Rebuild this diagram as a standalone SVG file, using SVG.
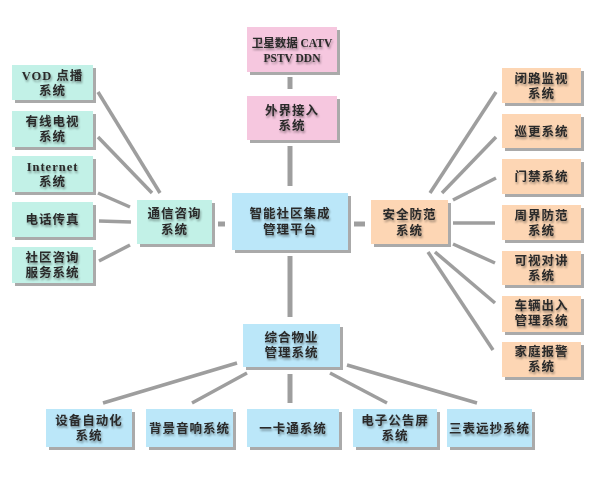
<svg xmlns="http://www.w3.org/2000/svg" width="595" height="480" viewBox="0 0 595 480">
<defs>
<filter id="ts" x="-10%" y="-20%" width="130%" height="150%">
<feGaussianBlur in="SourceAlpha" stdDeviation="0.8" result="b"/>
<feOffset in="b" dx="1" dy="1.5" result="o"/>
<feComponentTransfer in="o" result="s"><feFuncA type="linear" slope="0.4"/></feComponentTransfer>
<feMerge><feMergeNode in="s"/><feMergeNode in="SourceGraphic"/></feMerge>
</filter>
</defs>
<style>
.sh{fill:#aaaaaa}
.c{fill:#c2f1e7}
.b{fill:#bbe7f9}
.p{fill:#f6c7df}
.o{fill:#fdd6b4}
text{font-family:"Liberation Serif","Noto Sans CJK SC",serif;font-size:12.5px;font-weight:bold;fill:#2a2a2a;text-anchor:middle;dominant-baseline:central;letter-spacing:1px;filter:url(#ts)}
.ln line{stroke:#9e9e9e;stroke-width:3.5}
.tk line{stroke:#9e9e9e;stroke-width:5}
</style>
<rect width="595" height="480" fill="#fff"/>
<g id="connectors">
<g class="ln">
<line x1="98" y1="92" x2="160" y2="193"/>
<line x1="98" y1="137" x2="152" y2="193"/>
<line x1="98" y1="193" x2="130" y2="207"/>
<line x1="99" y1="221" x2="131" y2="222"/>
<line x1="99" y1="261" x2="130" y2="245"/>
<line x1="496" y1="92" x2="430" y2="193"/>
<line x1="496" y1="137" x2="442" y2="193"/>
<line x1="496" y1="178" x2="453" y2="200"/>
<line x1="453" y1="223" x2="495" y2="223"/>
<line x1="453" y1="244" x2="495" y2="263"/>
<line x1="435" y1="252" x2="495" y2="303"/>
<line x1="428" y1="252" x2="493" y2="350"/>
<line x1="237" y1="363" x2="103" y2="403"/>
<line x1="247" y1="373" x2="192" y2="403"/>
<line x1="330" y1="373" x2="387" y2="403"/>
<line x1="347" y1="365" x2="477" y2="403"/>
</g>
<g class="tk">
<line x1="290" y1="77" x2="290" y2="89"/>
<line x1="290" y1="146" x2="290" y2="186"/>
<line x1="290" y1="256" x2="290" y2="317"/>
<line x1="290" y1="374" x2="290" y2="403"/>
<line x1="218" y1="224" x2="225" y2="224"/>
<line x1="354" y1="224" x2="365" y2="224"/>
</g>
</g>
<g id="vod"><rect class="sh" x="15" y="68" width="81" height="35"/><rect class="c" x="12" y="65" width="81" height="35"/><text x="52.5" y="76">VOD 点播</text><text x="52.5" y="91">系统</text></g>
<g id="cable"><rect class="sh" x="15" y="114" width="81" height="36"/><rect class="c" x="12" y="111" width="81" height="36"/><text x="52.5" y="122">有线电视</text><text x="52.5" y="137">系统</text></g>
<g id="internet"><rect class="sh" x="15" y="159" width="81" height="36"/><rect class="c" x="12" y="156" width="81" height="36"/><text x="52.5" y="167">Internet</text><text x="52.5" y="182">系统</text></g>
<g id="phone"><rect class="sh" x="15" y="205" width="81" height="35"/><rect class="c" x="12" y="202" width="81" height="35"/><text x="52.5" y="220">电话传真</text></g>
<g id="consult"><rect class="sh" x="15" y="250" width="81" height="36"/><rect class="c" x="12" y="247" width="81" height="36"/><text x="52.5" y="258">社区咨询</text><text x="52.5" y="273">服务系统</text></g>
<g id="comm"><rect class="sh" x="140" y="203" width="75" height="44"/><rect class="c" x="137" y="200" width="75" height="44"/><text x="174.5" y="214">通信咨询</text><text x="174.5" y="230">系统</text></g>
<g id="center"><rect class="sh" x="235" y="196" width="116" height="57"/><rect class="b" x="232" y="193" width="116" height="57"/><text x="290" y="214">智能社区集成</text><text x="290" y="230">管理平台</text></g>
<g id="sat"><rect class="sh" x="250" y="30" width="90" height="45"/><rect class="p" x="247" y="27" width="90" height="45"/><text x="292" y="43" style="letter-spacing:0px;font-size:11.5px">卫星数据 CATV</text><text x="292" y="58" style="letter-spacing:0px;font-size:11.5px">PSTV  DDN</text></g>
<g id="ext"><rect class="sh" x="250" y="99" width="90" height="44"/><rect class="p" x="247" y="96" width="90" height="44"/><text x="292" y="111">外界接入</text><text x="292" y="126">系统</text></g>
<g id="security"><rect class="sh" x="374" y="203" width="77" height="44"/><rect class="o" x="371" y="200" width="77" height="44"/><text x="409.5" y="215">安全防范</text><text x="409.5" y="231">系统</text></g>
<g id="cctv"><rect class="sh" x="505" y="71" width="79" height="35"/><rect class="o" x="502" y="68" width="79" height="35"/><text x="541.5" y="79">闭路监视</text><text x="541.5" y="94">系统</text></g>
<g id="patrol"><rect class="sh" x="505" y="117" width="79" height="34"/><rect class="o" x="502" y="114" width="79" height="34"/><text x="541.5" y="132">巡更系统</text></g>
<g id="access"><rect class="sh" x="505" y="162" width="79" height="35"/><rect class="o" x="502" y="159" width="79" height="35"/><text x="541.5" y="177">门禁系统</text></g>
<g id="perimeter"><rect class="sh" x="505" y="208" width="79" height="35"/><rect class="o" x="502" y="205" width="79" height="35"/><text x="541.5" y="216">周界防范</text><text x="541.5" y="231">系统</text></g>
<g id="intercom"><rect class="sh" x="505" y="254" width="79" height="34"/><rect class="o" x="502" y="251" width="79" height="34"/><text x="541.5" y="261">可视对讲</text><text x="541.5" y="276">系统</text></g>
<g id="vehicle"><rect class="sh" x="505" y="299" width="79" height="36"/><rect class="o" x="502" y="296" width="79" height="36"/><text x="541.5" y="306">车辆出入</text><text x="541.5" y="321">管理系统</text></g>
<g id="alarm"><rect class="sh" x="505" y="345" width="79" height="35"/><rect class="o" x="502" y="342" width="79" height="35"/><text x="541.5" y="352">家庭报警</text><text x="541.5" y="367">系统</text></g>
<g id="property"><rect class="sh" x="246" y="327" width="97" height="43"/><rect class="b" x="243" y="324" width="97" height="43"/><text x="291.5" y="338">综合物业</text><text x="291.5" y="353">管理系统</text></g>
<g id="equip"><rect class="sh" x="49" y="412" width="86" height="38"/><rect class="b" x="46" y="409" width="86" height="38"/><text x="89" y="421">设备自动化</text><text x="89" y="436">系统</text></g>
<g id="music"><rect class="sh" x="149" y="412" width="87" height="38"/><rect class="b" x="146" y="409" width="87" height="38"/><text x="189.5" y="429">背景音响系统</text></g>
<g id="card"><rect class="sh" x="250" y="412" width="92" height="38"/><rect class="b" x="247" y="409" width="92" height="38"/><text x="293" y="429">一卡通系统</text></g>
<g id="board"><rect class="sh" x="356" y="412" width="84" height="38"/><rect class="b" x="353" y="409" width="84" height="38"/><text x="395" y="421">电子公告屏</text><text x="395" y="436">系统</text></g>
<g id="meter"><rect class="sh" x="450" y="412" width="85" height="38"/><rect class="b" x="447" y="409" width="85" height="38"/><text x="489.5" y="429">三表远抄系统</text></g>
</svg>
